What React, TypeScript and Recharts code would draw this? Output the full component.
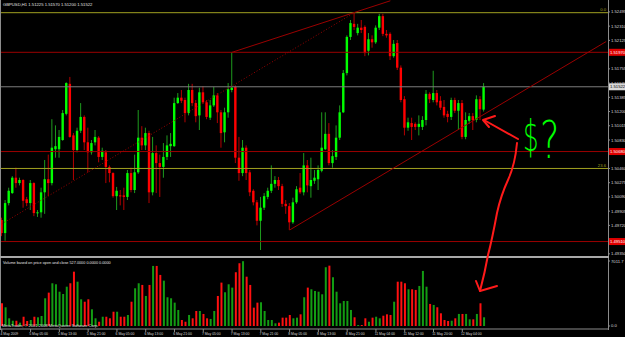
import { ComposedChart, Bar, XAxis, YAxis, ReferenceLine, Cell } from "recharts";

// GBPUSD H1, 4 May 2009 21:00 .. 12 May 2009 10:00 (one value per bar)
const OPEN = [
  1.4979, 1.4962, 1.5001, 1.5014, 1.5034, 1.5027, 1.5031, 1.5006, 1.5001, 1.5027,
  1.4988, 1.4989, 1.5015, 1.5032, 1.5027, 1.5071, 1.5071, 1.5083, 1.5117, 1.5156,
  1.5089, 1.507, 1.5095, 1.5113, 1.508, 1.5067, 1.508, 1.5086, 1.5061, 1.5067,
  1.5048, 1.504, 1.501, 1.5011, 1.5011, 1.5009, 1.504, 1.5018, 1.5041, 1.5086,
  1.5076, 1.5092, 1.5015, 1.5066, 1.5053, 1.5048, 1.5061, 1.5075, 1.5075, 1.5131,
  1.5138, 1.5135, 1.5118, 1.5148, 1.5131, 1.5115, 1.5145, 1.5132, 1.5112, 1.5128,
  1.5141, 1.5119, 1.5093, 1.5119, 1.5148, 1.5152, 1.506, 1.504, 1.5073, 1.5041,
  1.5017, 1.5002, 1.4978, 1.4995, 1.5009, 1.5017, 1.5026, 1.5031, 1.5023, 1.5,
  1.4997, 1.4976, 1.5002, 1.5021, 1.5015, 1.505, 1.5023, 1.503, 1.5032, 1.5043,
  1.5071, 1.5091, 1.5053, 1.5061, 1.5086, 1.5119, 1.517, 1.5217, 1.5234, 1.5222,
  1.5229, 1.523, 1.5199, 1.5214, 1.521, 1.5229, 1.5244, 1.5221, 1.5221, 1.5192,
  1.5209, 1.5177, 1.5136, 1.5099, 1.5105, 1.5104, 1.51, 1.51, 1.5109, 1.5143,
  1.5135, 1.5144, 1.5134, 1.5126, 1.5117, 1.5113, 1.5135, 1.5121, 1.5131, 1.5087,
  1.5108, 1.5114, 1.5109, 1.5136, 1.51225,
];
const HIGH = [
  1.4982, 1.5005, 1.5021, 1.5036, 1.5047, 1.5034, 1.5032, 1.5009, 1.5031, 1.5028,
  1.4992, 1.5021, 1.5057, 1.5064, 1.511, 1.5102, 1.5096, 1.5122, 1.5158, 1.5165,
  1.5092, 1.5099, 1.5131, 1.5115, 1.5099, 1.5083, 1.5096, 1.5088, 1.5073, 1.507,
  1.505, 1.5041, 1.5022, 1.5018, 1.5021, 1.5044, 1.5047, 1.5064, 1.5122, 1.5101,
  1.5099, 1.5095, 1.5087, 1.5076, 1.5064, 1.5079, 1.5089, 1.5092, 1.5138, 1.5144,
  1.5148, 1.5138, 1.5156, 1.5156, 1.5135, 1.5151, 1.5153, 1.5135, 1.5135, 1.5152,
  1.5144, 1.5122, 1.5125, 1.5157, 1.5197, 1.5154, 1.5087, 1.5083, 1.5076, 1.5044,
  1.5019, 1.5005, 1.5009, 1.5014, 1.5021, 1.505, 1.5036, 1.5035, 1.5026, 1.5005,
  1.5001, 1.5008, 1.5023, 1.504, 1.5066, 1.5057, 1.506, 1.5044, 1.505, 1.5119,
  1.5119, 1.5105, 1.507, 1.5102, 1.5128, 1.5174, 1.5219, 1.5239, 1.5248, 1.5234,
  1.5239, 1.5232, 1.5222, 1.5219, 1.5232, 1.5247, 1.5247, 1.5226, 1.5223, 1.5213,
  1.5213, 1.518, 1.514, 1.5112, 1.5112, 1.5106, 1.5115, 1.5114, 1.5148, 1.5145,
  1.5173, 1.5148, 1.514, 1.5135, 1.5121, 1.5138, 1.5138, 1.5135, 1.5135, 1.5119,
  1.5118, 1.5118, 1.5141, 1.514, 1.5157,
];
const LOW = [
  1.4958, 1.4952, 1.4998, 1.5013, 1.5021, 1.5024, 1.4995, 1.4997, 1.4992, 1.4984,
  1.4983, 1.4982, 1.4987, 1.501, 1.5024, 1.506, 1.506, 1.5082, 1.5115, 1.5086,
  1.5031, 1.5067, 1.5092, 1.507, 1.5041, 1.5064, 1.5076, 1.5054, 1.5057, 1.5027,
  1.5028, 1.5008, 1.4992, 1.4998, 1.4992, 1.5005, 1.5015, 1.5014, 1.5039, 1.507,
  1.507, 1.5001, 1.5011, 1.5014, 1.5009, 1.5034, 1.5057, 1.5061, 1.5074, 1.513,
  1.5131, 1.5106, 1.5115, 1.5127, 1.5106, 1.5096, 1.513, 1.511, 1.5109, 1.5126,
  1.5105, 1.5073, 1.508, 1.5112, 1.5145, 1.5053, 1.503, 1.5036, 1.5031, 1.501,
  1.4998, 1.4972, 1.494, 1.4992, 1.5006, 1.5014, 1.5021, 1.5018, 1.4996, 1.4987,
  1.4966, 1.4974, 1.5, 1.5013, 1.5011, 1.5015, 1.5008, 1.5026, 1.5018, 1.5041,
  1.507, 1.505, 1.5047, 1.5057, 1.5083, 1.5118, 1.5167, 1.5213, 1.5226, 1.5219,
  1.5222, 1.5192, 1.5193, 1.5203, 1.5208, 1.5226, 1.5218, 1.5216, 1.5187, 1.519,
  1.5174, 1.5132, 1.5089, 1.5095, 1.5083, 1.5096, 1.5089, 1.5096, 1.5102, 1.5131,
  1.5132, 1.5128, 1.5122, 1.5112, 1.5106, 1.5109, 1.5118, 1.5096, 1.5084, 1.5084,
  1.5104, 1.5096, 1.5106, 1.5109, 1.512,
];
const CLOSE = [
  1.4962, 1.5001, 1.5017, 1.5034, 1.5027, 1.5031, 1.5004, 1.5001, 1.5027, 1.4988,
  1.4989, 1.5015, 1.5032, 1.5027, 1.5073, 1.5075, 1.5087, 1.5118, 1.5157, 1.5087,
  1.507, 1.5095, 1.5113, 1.508, 1.5067, 1.5079, 1.5087, 1.5061, 1.5069, 1.5048,
  1.504, 1.501, 1.5017, 1.501, 1.5009, 1.504, 1.5018, 1.5041, 1.5086, 1.5076,
  1.5092, 1.5015, 1.5066, 1.5053, 1.5048, 1.5061, 1.5076, 1.5078, 1.5131, 1.5138,
  1.5134, 1.5118, 1.5148, 1.5131, 1.5114, 1.5145, 1.5132, 1.5113, 1.5128, 1.5141,
  1.5119, 1.5092, 1.5119, 1.5149, 1.5151, 1.506, 1.504, 1.5073, 1.504, 1.5015,
  1.5002, 1.4978, 1.4995, 1.501, 1.5017, 1.5026, 1.5031, 1.5023, 1.5, 1.4997,
  1.4976, 1.5002, 1.5019, 1.5015, 1.505, 1.5024, 1.5031, 1.5034, 1.5044, 1.5073,
  1.5091, 1.5053, 1.5062, 1.5086, 1.5119, 1.517, 1.5217, 1.5235, 1.523, 1.5229,
  1.5226, 1.5196, 1.5214, 1.521, 1.5229, 1.5244, 1.5221, 1.5219, 1.5192, 1.5208,
  1.5177, 1.5135, 1.5099, 1.5106, 1.51, 1.51, 1.5104, 1.5109, 1.5143, 1.5136,
  1.5144, 1.5132, 1.5125, 1.5115, 1.5113, 1.5135, 1.5121, 1.5131, 1.5087, 1.5109,
  1.5114, 1.5109, 1.5136, 1.5123, 1.51522,
];
const VOLUME = [
  2450, 2020, 830, 570, 570, 360, 1000, 540, 650, 1000,
  940, 1080, 2990, 3600, 4610, 4500, 3700, 3460, 4240, 4610,
  5860, 4780, 2880, 2620, 2880, 1800, 830, 460, 1000, 1000,
  830, 1540, 1540, 1000, 1000, 1190, 2620, 4070, 4610, 4430,
  3240, 4430, 6480, 6480, 5510, 4890, 3100, 2990, 2520, 1730,
  650, 460, 1190, 830, 1620, 1620, 1300, 830, 760, 1620,
  3240, 4680, 3640, 4500, 4140, 5800, 6770, 6990, 5320, 4430,
  1980, 2520, 2560, 1620, 650, 650, 290, 360, 900, 900,
  1190, 830, 900, 1260, 3100, 4140, 3960, 3780, 3700, 3420,
  6340, 6510, 5260, 3700, 2450, 2700, 2700, 1730, 940, 110,
  110, 830, 460, 900, 1000, 830, 1110, 1260, 1190, 2620,
  4780, 4780, 4610, 3960, 3960, 3890, 4320, 5940, 4240, 2380,
  2270, 2020, 1370, 650, 540, 570, 830, 1300, 1300, 1300,
  720, 720, 1300, 2450, 940,
];

// the window has room for 169 bars, the rest on the right is chart shift
const SLOTS = 169;

const TIME_TICKS = [0, 8, 16, 24, 32, 40, 48, 56, 64, 72, 80, 88, 96, 104, 112, 120, 128];
const TIME_LABELS = [
  "4 May 2009", "5 May 05:00", "5 May 13:00", "5 May 21:00", "6 May 05:00", "6 May 13:00",
  "6 May 21:00", "7 May 05:00", "7 May 13:00", "7 May 21:00", "8 May 05:00", "8 May 13:00",
  "8 May 21:00", "11 May 04:00", "11 May 12:00", "11 May 20:00", "12 May 04:00",
];

const PRICE_MIN = 1.49322;
const PRICE_MAX = 1.5265;
const PRICE_TICKS = [
  1.52495, 1.5231, 1.52125, 1.51755, 1.5157, 1.51385, 1.512, 1.51015, 1.5083,
  1.5046, 1.50275, 1.5009, 1.49905, 1.4972, 1.4935,
];
const LEVELS = [1.5197, 1.5068, 1.4951];
const FIB_PRICES = [1.52485, 1.5046];
const FIB_NAMES = ["0.0", "23.6"];
const LAST_PRICE = 1.51522;

const CHANNEL_TOP = [{ x: 64, y: 1.5197 }, { x: 108, y: 1.5264 }];
const FIB_DIAGONAL = [{ x: 0, y: 1.4974 }, { x: 98, y: 1.52485 }];
const TREND_LOW = [{ x: 80, y: 1.4966 }, { x: 168, y: 1.5211 }];

const VOL_MAX = 7011.7;

const BULL = "#00ff00";
const BEAR = "#ff0000";
const BULL_WICK = "#1e9b1e";
const BEAR_WICK = "#b40000";
const VOL_BULL = "#139c13";
const VOL_BEAR = "#ff1010";
const GRAY = "#8c8c8c";
const MAROON = "#9a0000";
const OLIVE = "#a0a020";
const FONT = "'Liberation Sans', Arial, sans-serif";

const rows = Array.from({ length: SLOTS }, (_, i) =>
  i < OPEN.length
    ? {
        i,
        open: OPEN[i],
        high: HIGH[i],
        low: LOW[i],
        close: CLOSE[i],
        range: [LOW[i], HIGH[i]],
        vol: VOLUME[i],
      }
    : { i }
);

function Candle(props: any) {
  const { x, y, width, height, payload } = props;
  if (!payload || payload.open == null) return null;
  const top = Math.min(y, y + height);
  const h = Math.abs(height);
  const span = payload.high - payload.low || 1;
  const py = (v: number) => top + ((payload.high - v) / span) * h;
  const cx = x + width / 2;
  const up = payload.close >= payload.open;
  const y1 = py(Math.max(payload.open, payload.close));
  const y2 = py(Math.min(payload.open, payload.close));
  return (
    <g>
      <line x1={cx} x2={cx} y1={top} y2={top + h} stroke={up ? BULL_WICK : BEAR_WICK} strokeWidth={1} />
      <rect x={cx - 1.2} y={y1} width={2.4} height={Math.max(y2 - y1, 1)} fill={up ? BULL : BEAR} />
    </g>
  );
}

// price tag drawn on the axis at the end of a horizontal line
const axisTag = (text: string, fill: string, color: string) => (p: any) => {
  const vb = p.viewBox;
  if (!vb) return null;
  const x = vb.x + vb.width + 1;
  return (
    <g>
      <rect x={x} y={vb.y - 3.5} width={17} height={7} fill={fill} />
      <text x={x + 1} y={vb.y + 1.5} fontSize={4.2} fill={color} fontFamily={FONT}>
        {text}
      </text>
    </g>
  );
};

const fibTag = (text: string) => (p: any) => {
  const vb = p.viewBox;
  if (!vb) return null;
  return (
    <text x={vb.x + vb.width - 2} y={vb.y - 1.2} textAnchor="end" fontSize={4.2} fill={OLIVE} fontFamily={FONT}>
      {text}
    </text>
  );
};

function PriceTick(props: any) {
  const { x, y, payload } = props;
  return (
    <text x={x} y={y + 1.5} fontSize={4.2} fill="#d8d8d8" fontFamily={FONT}>
      {Number(payload.value).toFixed(5)}
    </text>
  );
}

function VolTick(props: any) {
  const { x, y, payload } = props;
  return (
    <text x={x} y={y + 1.5} fontSize={4.2} fill="#d8d8d8" fontFamily={FONT}>
      {Number(payload.value).toFixed(1)}
    </text>
  );
}

function TimeTick(props: any) {
  const { x, y, payload } = props;
  const k = TIME_TICKS.indexOf(payload.value);
  if (k < 0) return null;
  return (
    <text x={x - 1.3} y={y + 2.6} fontSize={3.4} fill="#d8d8d8" fontFamily={FONT}>
      {TIME_LABELS[k]}
    </text>
  );
}

export default function App() {
  return (
    <div
      style={{
        position: "absolute",
        left: 0,
        top: 0,
        width: 625,
        height: 337,
        background: "#000",
        overflow: "hidden",
      }}
    >
      <div style={{ position: "absolute", left: 0, top: 0 }}>
        <ComposedChart width={625} height={256} data={rows} margin={{ top: 0, right: 0, bottom: 0, left: 0 }}>
          <XAxis dataKey="i" type="category" hide />
          <YAxis
            orientation="right"
            width={17}
            type="number"
            domain={[PRICE_MIN, PRICE_MAX]}
            allowDataOverflow
            ticks={PRICE_TICKS}
            interval={0}
            axisLine={false}
            tickLine={{ stroke: GRAY }}
            tickSize={2}
            tickMargin={1}
            tick={<PriceTick />}
          />
          {FIB_PRICES.map((p, k) => (
            <ReferenceLine key={"f" + k} y={p} stroke={OLIVE} strokeWidth={1} label={fibTag(FIB_NAMES[k])} />
          ))}
          {LEVELS.map((p) => (
            <ReferenceLine key={p} y={p} stroke={MAROON} strokeWidth={1} label={axisTag(p.toFixed(5), "#e00000", "#ffffff")} />
          ))}
          <ReferenceLine y={LAST_PRICE} stroke="#7c7c7c" strokeWidth={1} label={axisTag(LAST_PRICE.toFixed(5), "#d8d8d8", "#000000")} />
          <ReferenceLine segment={CHANNEL_TOP} stroke={MAROON} strokeWidth={1} />
          <ReferenceLine segment={FIB_DIAGONAL} stroke={MAROON} strokeWidth={1} strokeDasharray="1 2" />
          <ReferenceLine segment={TREND_LOW} stroke={MAROON} strokeWidth={1} />
          <Bar dataKey="range" shape={Candle} barSize={3} isAnimationActive={false} />
        </ComposedChart>
      </div>

      <div style={{ position: "absolute", left: 0, top: 258 }}>
        <ComposedChart width={625} height={79} data={rows} margin={{ top: 3, right: 0, bottom: 0, left: 0 }}>
          <XAxis
            dataKey="i"
            type="category"
            ticks={TIME_TICKS}
            interval={0}
            height={8}
            tickSize={3}
            tickMargin={0}
            axisLine={{ stroke: GRAY }}
            tickLine={{ stroke: GRAY }}
            tick={<TimeTick />}
          />
          <YAxis
            orientation="right"
            width={17}
            type="number"
            domain={[-324, VOL_MAX]}
            allowDataOverflow
            ticks={[0, VOL_MAX]}
            interval={0}
            axisLine={false}
            tickLine={{ stroke: GRAY }}
            tickSize={2}
            tickMargin={1}
            tick={<VolTick />}
          />
          <Bar dataKey="vol" barSize={2} isAnimationActive={false}>
            {rows.map((r: any) => (
              <Cell key={r.i} fill={r.close >= r.open ? VOL_BULL : VOL_BEAR} />
            ))}
          </Bar>
        </ComposedChart>
      </div>

      {/* window frame */}
      <div style={{ position: "absolute", left: 0, top: 0, width: 1, height: 330, background: GRAY }} />
      <div style={{ position: "absolute", left: 608, top: 0, width: 1, height: 330, background: GRAY }} />
      <div style={{ position: "absolute", left: 0, top: 256, width: 609, height: 2, background: "#a8a8a8" }} />

      <svg width={625} height={337} style={{ position: "absolute", left: 0, top: 0, pointerEvents: "none" }}>
        <g fontFamily={FONT} fill="#e0e0e0">
          <text x={3} y={6.3} fontSize={4.2}>GBPUSD,H1 1.51225 1.51570 1.51200 1.51522</text>
          <text x={3} y={263.8} fontSize={3.8}>Volume based on price open and close 527.0000 0.0000 0.0000</text>
          <text x={2} y={326.5} fontSize={4}>MetaTrader, © 2001-2008 MetaQuotes Software Corp.</text>
        </g>
        {/* hand-drawn note */}
        <g stroke="#ff1a1a" strokeWidth={2} fill="none" strokeLinecap="round" strokeLinejoin="round">
          <path d="M518 139 L484 120" />
          <path d="M495 116 L483 120 L489 127" />
          <path d="M517 143 Q515 165 508 180 T497 213 Q492 240 488 255 Q485 272 480 291" />
          <path d="M476 281 L480 291 L497 286" />
        </g>
        <g fill="#00ff00" fontFamily="'DejaVu Sans', sans-serif" fontWeight={200}>
          <text transform="translate(523 150.5) scale(0.57 1)" fontSize={43}>$</text>
          <text transform="translate(540 158) scale(0.7 1)" fontSize={52}>?</text>
        </g>
      </svg>
    </div>
  );
}
